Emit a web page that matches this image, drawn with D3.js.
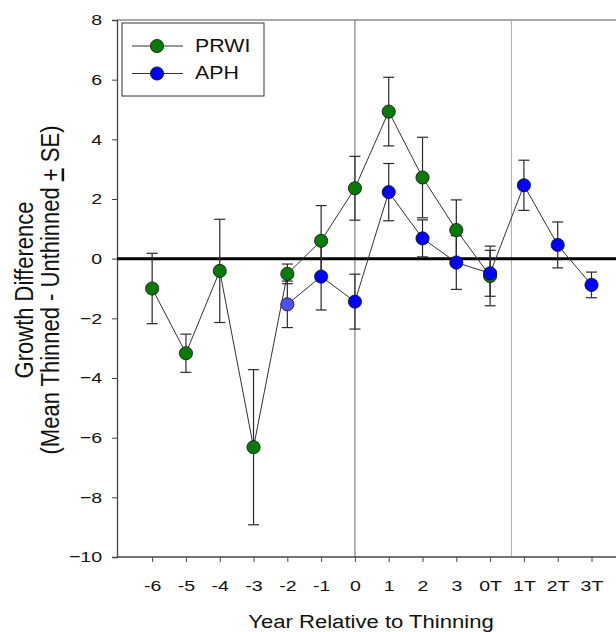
<!DOCTYPE html>
<html><head><meta charset="utf-8">
<script src="https://cdn.jsdelivr.net/npm/d3@7/dist/d3.min.js"></script>
<style>body{margin:0;background:#fff}svg{display:block;font-family:Arial,"Liberation Sans",sans-serif}</style>
</head><body><svg id="c" width="616" height="632"></svg>
<script>
const categories = ["-6","-5","-4","-3","-2","-1","0","1","2","3","0T","1T","2T","3T"];
const yTicks = [-10,-8,-6,-4,-2,0,2,4,6,8];
const prwiCats = ["-6","-5","-4","-3","-2","-1","0","1","2","3","0T"];
const prwiMean = [-1.0,-3.17,-0.41,-6.32,-0.51,0.60,2.36,4.93,2.72,0.96,-0.58];
const prwiSE   = [1.18,0.64,1.73,2.60,0.33,1.18,1.07,1.15,1.35,1.01,1.00];
const aphCats = ["-2","-1","0","1","2","3","0T","1T","2T","3T"];
const aphMean = [-1.53,-0.60,-1.44,2.23,0.68,-0.13,-0.49,2.46,0.46,-0.88];
const aphSE   = [0.78,1.12,0.92,0.96,0.62,0.90,0.77,0.84,0.77,0.43];
const refLines = [6, 10.63];

const FONT = 'Arial,"Liberation Sans",sans-serif';
const svg = d3.select("#c");
const x0 = 117, x1 = 628, yTop = 20, yBot = 557;
const xIdx = d3.scaleLinear().domain([-1.04, 14.08]).range([x0, x1]);
const x = c => xIdx(categories.indexOf(c));
const y = d3.scaleLinear().domain([-10, 8]).range([yBot, yTop]);

function stretch(sel, px, py, sx){
  sel.attr("transform", `translate(${px},${py}) scale(${sx},1) translate(${-px},${-py})`);
}

// frame top
svg.append("line").attr("x1",x0).attr("x2",616).attr("y1",yTop).attr("y2",yTop).attr("stroke","#555").attr("stroke-width",1.2);
// reference vertical lines
svg.append("line").attr("x1",xIdx(refLines[0])).attr("x2",xIdx(refLines[0])).attr("y1",yTop).attr("y2",yBot).attr("stroke","#666").attr("stroke-width",1);
svg.append("line").attr("x1",xIdx(refLines[1])).attr("x2",xIdx(refLines[1])).attr("y1",yTop).attr("y2",yBot).attr("stroke","#aaa").attr("stroke-width",1);

// axes
const yAxis = d3.axisLeft(y).tickValues(yTicks).tickSize(5).tickPadding(10);
const gy = svg.append("g").attr("transform",`translate(${x0},0)`).call(yAxis);
const xAxis = d3.axisBottom(xIdx).tickValues(d3.range(categories.length)).tickFormat(i=>categories[i]).tickSize(5).tickPadding(17.5);
const gx = svg.append("g").attr("transform",`translate(0,${yBot})`).call(xAxis);
[gx,gy].forEach(g=>{
  g.attr("font-size",15.5).attr("font-family",FONT);
  g.select(".domain").attr("stroke","#444").attr("stroke-width",1.3);
  g.selectAll(".tick line").attr("stroke","#444");
  g.selectAll(".tick text").attr("font-size",15.5).attr("fill","#111");
});
gx.selectAll(".tick text").each(function(){ stretch(d3.select(this), 0, 0, 1.26); });
gy.selectAll(".tick text").each(function(){ stretch(d3.select(this), -15, 0, 1.26); });
gx.select(".domain").attr("d",`M${x0},0H616`);

// zero line
svg.append("line").attr("x1",x0).attr("x2",616).attr("y1",y(0)).attr("y2",y(0)).attr("stroke","#000").attr("stroke-width",3);

function series(cats, mean, se){
  const pts = cats.map((c,i)=>({c, m:mean[i], s:se[i]}));
  svg.append("path").datum(pts).attr("fill","none").attr("stroke","#333").attr("stroke-width",1)
    .attr("d", d3.line().x(d=>x(d.c)).y(d=>y(d.m)));
  const eb = svg.append("g").attr("stroke","#2a2a2a").attr("stroke-width",1.2);
  pts.forEach(d=>{
    const cx = x(d.c);
    eb.append("line").attr("x1",cx).attr("x2",cx).attr("y1",y(d.m+d.s)).attr("y2",y(d.m-d.s));
    eb.append("line").attr("x1",cx-5.5).attr("x2",cx+5.5).attr("y1",y(d.m+d.s)).attr("y2",y(d.m+d.s));
    eb.append("line").attr("x1",cx-5.5).attr("x2",cx+5.5).attr("y1",y(d.m-d.s)).attr("y2",y(d.m-d.s));
  });
  return pts;
}
const pPts = series(prwiCats, prwiMean, prwiSE);
const aPts = series(aphCats, aphMean, aphSE);
svg.append("g").selectAll("circle").data(pPts).join("circle")
  .attr("cx",d=>x(d.c)).attr("cy",d=>y(d.m)).attr("r",6.6).attr("fill","#087a08").attr("stroke","#111").attr("stroke-width",0.8);
svg.append("g").selectAll("circle").data(aPts).join("circle")
  .attr("cx",d=>x(d.c)).attr("cy",d=>y(d.m)).attr("r",6.6).attr("fill",(d,i)=>i===0?"#4f4ff5":"#0000ff").attr("stroke","#111").attr("stroke-width",0.8);

// legend
const lg = svg.append("g");
lg.append("rect").attr("x",122).attr("y",23).attr("width",142).attr("height",73).attr("fill","#fff").attr("stroke","#333").attr("stroke-width",1);
[["PRWI","#087a08",46,52.5],["APH","#0000ff",73.5,79]].forEach(([t,c,yy,by])=>{
  lg.append("line").attr("x1",132).attr("x2",183).attr("y1",yy).attr("y2",yy).attr("stroke","#333");
  lg.append("circle").attr("cx",157).attr("cy",yy).attr("r",6.6).attr("fill",c).attr("stroke","#111").attr("stroke-width",0.8);
  const tx = lg.append("text").attr("x",195).attr("y",by).attr("font-size",17.5).attr("fill","#111").text(t);
  stretch(tx, 195, by, 1.22);
});

// titles
const xt = svg.append("text").attr("x",371).attr("y",628).attr("text-anchor","middle").attr("font-size",19.2).attr("fill","#111").text("Year Relative to Thinning");
stretch(xt, 371, 628, 1.15);
const SY = 1.15;
const yt = svg.append("text").attr("transform",`translate(0,290) scale(${SY},1) rotate(-90)`).attr("text-anchor","middle").attr("font-size",22).attr("fill","#111");
yt.append("tspan").attr("x",0).attr("y",33/SY).text("Growth Difference");
const t2 = yt.append("tspan").attr("x",0).attr("y",59.5/SY);
t2.append("tspan").text("(Mean Thinned - Unthinned ");
t2.append("tspan").attr("text-decoration","underline").text("+");
t2.append("tspan").text(" SE)");
</script></body></html>
